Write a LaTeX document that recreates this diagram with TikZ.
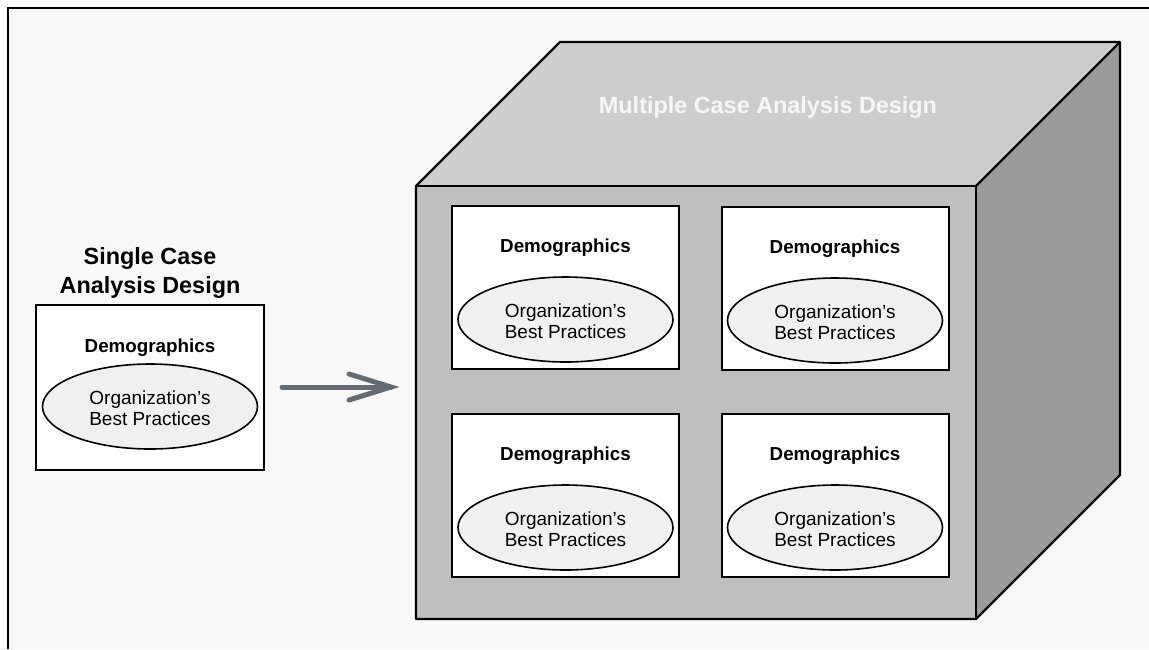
\documentclass[tikz,border=0pt]{standalone}
\usepackage{fontspec}
\setmainfont{Liberation Sans}
\usetikzlibrary{shapes.geometric,calc}
\definecolor{pagebg}{HTML}{F8F8F8}
\definecolor{topface}{HTML}{CDCDCD}
\definecolor{frontface}{HTML}{BFBFBF}
\definecolor{sideface}{HTML}{9B9B9B}
\definecolor{ovalfill}{HTML}{F0F0F0}
\definecolor{arrowgray}{HTML}{646B73}
\definecolor{titlewhite}{HTML}{F6F6F6}
\tikzset{
  casebox/.style={draw=black, line width=2pt, fill=white, rectangle,
    minimum width=227pt, minimum height=163pt, inner sep=0pt},
  demolabel/.style={font=\fontsize{18.8}{22}\selectfont\bfseries, anchor=base, inner sep=0pt},
  practice/.style={ellipse, draw=black, line width=1.6pt, fill=ovalfill,
    minimum width=215pt, minimum height=85pt, inner sep=0pt, align=center,
    font=\fontsize{19}{21.5}\selectfont},
  practicetext/.style={align=center, inner sep=0pt, font=\fontsize{19}{21.5}\selectfont},
  face/.style={draw=black, line width=2.4pt, line join=round},
  heading/.style={font=\fontsize{23.4}{29}\selectfont\bfseries, align=center, inner sep=0pt},
  bigarrow/.style={draw=arrowgray, line width=5pt, line cap=round},
}
\begin{document}
\begin{tikzpicture}[x=1pt,y=-1pt]
\useasboundingbox (0,0) rectangle (1149,649);
\fill[white] (0,0) rectangle (1149,649);
\fill[pagebg] (8,8) rectangle (1149,649);
\draw[line width=2pt] (8,649) -- (8,8) -- (1149,8);

% ---- single case ----
\node[heading] (singletitle) at (150,272.5) {Single Case\\Analysis Design};
\node[casebox, minimum width=228pt, minimum height=165pt] (single) at (150,387.5) {};
\node[demolabel] (singledemo) at (150,352) {Demographics};
\node[practice] (singleoval) at (150,406.5) {};
\node[practicetext] (singletext) at (150,408) {Organization’s\\Best Practices};

% ---- arrow ----
\coordinate (arrowtail) at (282,387);
\coordinate (arrowtip) at (391,387);
\draw[bigarrow] (arrowtail) -- (arrowtip);
\draw[bigarrow, line join=miter] ($(arrowtip)+(-42,-13)$) -- (arrowtip) -- ($(arrowtip)+(-42,13)$);

% ---- the cube ----
\coordinate (ftl) at (416,186);
\coordinate (ftr) at (976,186);
\coordinate (fbr) at (976,619);
\coordinate (fbl) at (416,619);
\coordinate (btl) at (560,42);
\coordinate (btr) at (1120,42);
\coordinate (bbr) at (1120,475);
\fill[topface] (ftl) -- (btl) -- (btr) -- (ftr) -- cycle;
\fill[sideface] (ftr) -- (btr) -- (bbr) -- (fbr) -- cycle;
\fill[frontface] (ftl) rectangle (fbr);
\draw[face] (ftl) -- (btl) -- (btr) -- (bbr) -- (fbr) -- (fbl) -- cycle;
\draw[face] (ftl) -- (ftr) -- (fbr);
\draw[face] (ftr) -- (btr);
\node[heading, text=titlewhite, anchor=base] (multititle) at (768,113) {Multiple Case Analysis Design};

% ---- four cases ----
\foreach \name/\cx/\top in {caseA/565.5/206, caseB/835/207, caseC/565.5/414, caseD/835/414}{
  \node[casebox] (\name) at (\cx,\top+81.5) {};
  \node[demolabel] (\name demo) at (\cx,\top+46) {Demographics};
  \node[practice] (\name oval) at (\cx,\top+113.5) {};
  \node[practicetext] (\name text) at (\cx,\top+115) {Organization’s\\Best Practices};
}
\end{tikzpicture}
\end{document}
